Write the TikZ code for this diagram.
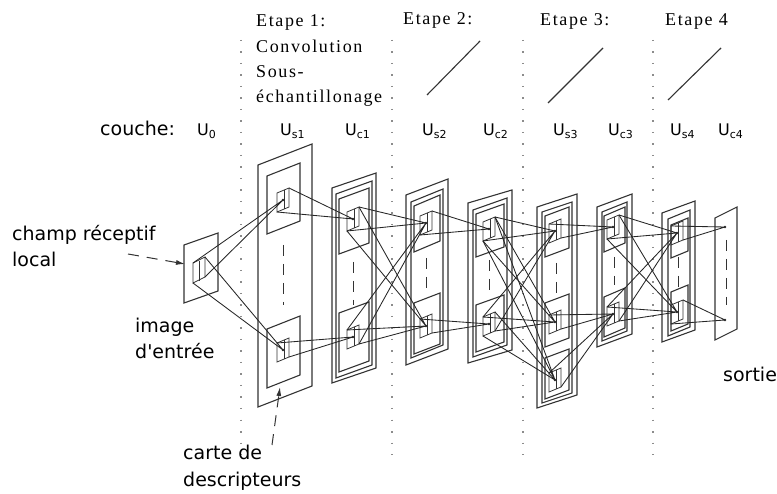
\documentclass[tikz,border=0pt]{standalone}
\usepackage{fontspec}
\setmainfont{Liberation Serif}
\newfontfamily\sfw{DejaVu Sans}
\newfontfamily\serw[LetterSpace=9]{Liberation Serif}
\usetikzlibrary{arrows.meta}
\tikzset{
  ln/.style={line width=1.1pt, draw=black!80},
  cn/.style={line width=0.85pt, draw=black!85},
  vdot/.style={draw=black!45, line width=1.5pt, dash pattern=on 1.5pt off 10pt},
  dsh/.style={line width=1pt, draw=black!80, dash pattern=on 11pt off 8pt},
  sans/.style={font=\sfw\fontsize{19}{23}\selectfont, inner sep=0pt, anchor=base west},
  serif/.style={font=\serw\fontsize{18}{23}\selectfont, inner sep=0pt, anchor=base west},
  ulab/.style={font=\sfw\fontsize{16}{18}\selectfont, inner sep=0pt, anchor=base west},
  arr/.style={-{Latex[length=9pt,width=5pt]}}
}
% parallelogram: [style]{xl}{xr}{y top-left}{y bottom-left}{rise}
\newcommand\pg[6][]{\draw[ln,#1] (#2,#4) -- (#3,#4-#6) -- (#3,#5-#6) -- (#2,#5) -- cycle;}
% unit with its small receptive box
\newcommand\ub[3]{%
  \coordinate (#1) at (#2,#3);
  \coordinate (#1A) at (#2-6,#3-7);
  \coordinate (#1B) at (#2+6,#3-12);
  \coordinate (#1C) at (#2-6,#3+12);
  \coordinate (#1D) at (#2+6,#3+7);
  \draw[ln,line width=0.8pt] (#1A)--(#1B)--(#1D)--(#1C)--cycle;
  \draw[ln,line width=0.8pt] (#2+1,#3-10) -- (#2+1,#3+9);
  \fill[black!85] (#1) circle (1.4pt);}
\newcommand\upc[2]{\draw[cn] (#1A) -- (#2) (#1D) -- (#2);}
\newcommand\dnc[2]{\draw[cn] (#1B) -- (#2) (#1C) -- (#2);}
\newcommand\ulabel[4]{\node[ulab] (#1) at (#2,#3) {U\raisebox{-3pt}{\fontsize{11}{12}\selectfont #4}};}
\begin{document}
\begin{tikzpicture}[x=1pt,y=-1pt]
\useasboundingbox (0,0) rectangle (777,494);
\fill[white] (0,0) rectangle (777,494);
% dotted separators
\foreach \xx/\nm in {241/s1,392/s2,523/s3,653/s4}{
  \coordinate (top\nm) at (\xx,40); \coordinate (bot\nm) at (\xx,455);
  \draw[vdot] (top\nm) -- (bot\nm);}
% titles
\node[serif] (e1) at (256,27) {Etape 1:};
\node[serif] (e1b) at (256,53) {Convolution};
\node[serif] (e1c) at (256,78) {Sous-};
\node[serif] (e1d) at (256,103) {échantillonage};
\node[serif] (e2) at (403,25) {Etape 2:};
\node[serif] (e3) at (540,26) {Etape 3:};
\node[serif] (e4) at (665,26) {Etape 4};
\coordinate (d2a) at (427,95); \coordinate (d2b) at (480,41);
\coordinate (d3a) at (548,103); \coordinate (d3b) at (603,48);
\coordinate (d4a) at (668,100); \coordinate (d4b) at (721,48);
\draw[ln] (d2a) -- (d2b); \draw[ln] (d3a) -- (d3b); \draw[ln] (d4a) -- (d4b);
% layer labels
\node[sans] (couche) at (100,136) {couche:};
\ulabel{lu0}{197}{136}{0}
\ulabel{ls1}{280}{136}{s1}
\ulabel{lc1}{345}{136}{c1}
\ulabel{ls2}{422}{136}{s2}
\ulabel{lc2}{483}{136}{c2}
\ulabel{ls3}{553}{136}{s3}
\ulabel{lc3}{608}{136}{c3}
\ulabel{ls4}{670}{136}{s4}
\ulabel{lc4}{718}{136}{c4}
% side labels
\node[sans] (champ) at (12,241) {champ réceptif};
\node[sans] (local) at (12,267) {local};
\node[sans] (image) at (135,333) {image};
\node[sans] (entree) at (135,359) {d'entrée};
\node[sans] (carte) at (183,460) {carte de};
\node[sans] (descr) at (183,486) {descripteurs};
\node[sans] (sortie) at (723,382) {sortie};
% ---- layer u0
\pg{184}{218}{245}{303}{12}
\coordinate (u0A) at (193,263); \coordinate (u0B) at (205,257);
\coordinate (u0C) at (193,283); \coordinate (u0D) at (205,277);
\draw[ln,line width=0.8pt] (u0A)--(u0B)--(u0D)--(u0C)--cycle;
\draw[ln,line width=0.8pt] (199,261) -- (199,281);
% ---- layer Us1
\pg{258}{312}{165}{407}{21}
\pg{267}{300}{176}{234}{13}
\pg{267}{300}{329}{388}{13}
\draw[dsh] (283,245) -- (283,305);
% ---- layer Uc1
\pg{332}{376}{188}{383}{15}
\pg{336}{372}{194}{378}{13}
\pg{339}{369}{199}{254}{11}
\pg{339}{369}{313}{372}{11}
\draw[dsh] (353,262) -- (353,305);
% ---- layer Us2
\pg{406}{448}{195}{365}{16}
\pg{411}{443}{202}{358}{13}
\pg{414}{440}{206}{252}{11}
\pg{414}{440}{303}{354}{10}
\draw[dsh] (426,258) -- (426,295);
% ---- layer Uc2
\pg{468}{512}{203}{363}{13}
\pg{473}{507}{210}{357}{12}
\pg{476}{504}{214}{257}{10}
\pg{476}{504}{305}{352}{10}
\draw[dsh] (489,260) -- (489,295);
% ---- layer Us3
\pg{537}{577}{207}{408}{13}
\pg{542}{572}{212}{403}{10}
\pg{545}{569}{216}{257}{9}
\pg{545}{569}{303}{347}{9}
\pg{545}{569}{358}{399}{9}
\draw[dsh] (556,263) -- (556,295);
% ---- layer Uc3
\pg{597}{632}{207}{347}{13}
\pg{602}{627}{212}{341}{10}
\pg{604}{625}{216}{252}{9}
\pg{604}{625}{297}{337}{9}
\draw[dsh] (614,257) -- (614,285);
% ---- layer Us4
\pg{662}{695}{213}{342}{12}
\pg{668}{690}{219}{336}{9}
\pg{671}{688}{225}{258}{7}
\pg{671}{688}{292}{331}{7}
\draw[dsh] (678,257) -- (678,288);
% ---- layer Uc4
\pg{715}{737}{218}{340}{11}
\draw[dsh] (726,240) -- (726,305);
% ---- units
\ub{s1u}{283}{200} \ub{s1l}{283}{350}
\ub{c1u}{353}{219} \ub{c1l}{353}{337}
\ub{s2u}{426}{223} \ub{s2l}{426}{326}
\ub{c2u}{489}{229} \ub{c2l}{489}{324}
\ub{s3u}{555}{231} \ub{s3m}{555}{322} \ub{s3l}{555}{380}
\ub{c3u}{613}{227} \ub{c3l}{613}{314}
\ub{s4u}{677}{233} \ub{s4l}{677}{312}
\coordinate (c4u) at (725,227); \coordinate (c4l) at (725,320);
\fill[black!85] (c4u) circle (1.4pt); \fill[black!85] (c4l) circle (1.4pt);
% ---- connections
\upc{u0}{s1u} \dnc{u0}{s1l}
\dnc{s1u}{c1u} \upc{s1l}{c1l}
\dnc{c1u}{s2u} \dnc{c1u}{s2l} \upc{c1l}{s2u} \upc{c1l}{s2l}
\dnc{s2u}{c2u} \upc{s2l}{c2l}
\dnc{c2u}{s3u} \dnc{c2u}{s3m} \dnc{c2u}{s3l}
\upc{c2l}{s3u} \upc{c2l}{s3m} \dnc{c2l}{s3l}
\upc{s3u}{c3u} \upc{s3m}{c3l} \upc{s3l}{c3l}
\dnc{c3u}{s4u} \dnc{c3u}{s4l} \upc{c3l}{s4u} \upc{c3l}{s4l}
\upc{s4u}{c4u} \dnc{s4l}{c4l}
% ---- pointer arrows
\coordinate (crs) at (128,254); \coordinate (crt) at (185,264);
\draw[dsh,arr] (crs) -- (crt);
\coordinate (cds) at (272,445); \coordinate (cdt) at (280,387);
\draw[dsh,arr] (cds) -- (cdt);
\end{tikzpicture}
\end{document}
